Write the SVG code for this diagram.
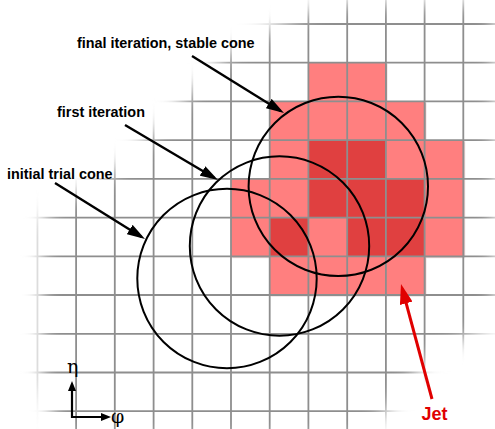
<svg xmlns="http://www.w3.org/2000/svg" width="495" height="429" viewBox="0 0 495 429">
<style>
.grid{stroke:#8e8e8e;stroke-width:1.8;fill:none}
.p{fill:#ff7f7f}
.d{fill:#e04141}
.cone{fill:none;stroke:#000;stroke-width:2}
.arr{stroke:#000;stroke-width:2.4;fill:none}
.lbl{font-family:"Liberation Sans",Arial,sans-serif;font-weight:bold;font-size:14.4px;fill:#000}
.jet{font-family:"Liberation Sans",Arial,sans-serif;font-weight:bold;font-size:18px;fill:#e00000}
.greek{font-family:"DejaVu Serif","Liberation Serif",serif;font-size:19px;fill:#000}
.ax{stroke:#000;stroke-width:2.2;fill:none}
</style>
<defs>
<filter id="blur" filterUnits="userSpaceOnUse" x="-60" y="-60" width="620" height="560">
<feGaussianBlur stdDeviation="9"/>
</filter>
<mask id="fade" maskUnits="userSpaceOnUse" x="0" y="0" width="495" height="429">
<polygon fill="#fff" filter="url(#blur)" points="325,4 235,48 190,93 150,138 105,180 50,208 42,228 42,380 62,440 355,440 380,418 425,360 494,322 494,4"/>
</mask>
<filter id="sh" x="-10%" y="-10%" width="130%" height="130%">
<feDropShadow dx="1.2" dy="1.2" stdDeviation="0.7" flood-color="#7a2a2a" flood-opacity="0.55"/>
</filter>
<marker id="ah" markerUnits="userSpaceOnUse" viewBox="0 0 18 11" markerWidth="18" markerHeight="11" refX="14" refY="5.5" orient="auto">
<path d="M0,0 L18,5.5 L0,11 z" fill="#000"/>
</marker>
<marker id="ahr" markerUnits="userSpaceOnUse" viewBox="0 0 20 13" markerWidth="20" markerHeight="13" refX="15" refY="6.5" orient="auto">
<path d="M0,0 L20,6.5 L0,13 z" fill="#e00000"/>
</marker>
<marker id="ahs" markerUnits="userSpaceOnUse" viewBox="0 0 10 8" markerWidth="10" markerHeight="8" refX="5" refY="4" orient="auto">
<path d="M0,0 L10,4 L0,8 z" fill="#000"/>
</marker>
</defs>
<rect width="495" height="429" fill="#fff"/>
<g id="cells" filter="url(#sh)">
<rect class="p" x="308.4" y="62.7" width="38.8" height="38.8"/>
<rect class="p" x="347.2" y="62.7" width="38.7" height="38.8"/>
<rect class="p" x="269.7" y="101.4" width="38.7" height="38.8"/>
<rect class="p" x="308.4" y="101.4" width="38.8" height="38.8"/>
<rect class="p" x="347.2" y="101.4" width="38.7" height="38.8"/>
<rect class="p" x="385.9" y="101.4" width="38.7" height="38.8"/>
<rect class="p" x="269.7" y="140.2" width="38.7" height="38.7"/>
<rect class="d" x="308.4" y="140.2" width="38.8" height="38.7"/>
<rect class="d" x="347.2" y="140.2" width="38.7" height="38.7"/>
<rect class="p" x="385.9" y="140.2" width="38.7" height="38.7"/>
<rect class="p" x="424.6" y="140.2" width="38.7" height="38.7"/>
<rect class="p" x="231" y="178.9" width="38.7" height="38.7"/>
<rect class="p" x="269.7" y="178.9" width="38.7" height="38.7"/>
<rect class="d" x="308.4" y="178.9" width="38.8" height="38.7"/>
<rect class="d" x="347.2" y="178.9" width="38.7" height="38.7"/>
<rect class="d" x="385.9" y="178.9" width="38.7" height="38.7"/>
<rect class="p" x="424.6" y="178.9" width="38.7" height="38.7"/>
<rect class="p" x="231" y="217.6" width="38.7" height="38.7"/>
<rect class="d" x="269.7" y="217.6" width="38.7" height="38.7"/>
<rect class="p" x="308.4" y="217.6" width="38.8" height="38.7"/>
<rect class="d" x="347.2" y="217.6" width="38.7" height="38.7"/>
<rect class="d" x="385.9" y="217.6" width="38.7" height="38.7"/>
<rect class="p" x="424.6" y="217.6" width="38.7" height="38.7"/>
<rect class="p" x="269.7" y="256.3" width="38.7" height="38.7"/>
<rect class="p" x="308.4" y="256.3" width="38.8" height="38.7"/>
<rect class="p" x="347.2" y="256.3" width="38.7" height="38.7"/>
<rect class="p" x="385.9" y="256.3" width="38.7" height="38.7"/>
</g>
<g id="grid" mask="url(#fade)">
<path class="grid" d="M37.4,0V429M76.1,0V429M114.8,0V429M153.6,0V429M192.3,0V429M231,0V429M269.7,0V429M308.4,0V429M347.2,0V429M385.9,0V429M424.6,0V429M463.3,0V429M0,24H495M0,62.7H495M0,101.4H495M0,140.2H495M0,178.9H495M0,217.6H495M0,256.3H495M0,295H495M0,333.8H495M0,372.5H495M0,411.2H495"/>
</g>
<g id="cone-initial"><circle class="cone" cx="227" cy="278.5" r="89.7"/></g>
<g id="cone-first"><circle class="cone" cx="279.5" cy="246" r="89.7"/></g>
<g id="cone-final"><circle class="cone" cx="338.3" cy="186.4" r="89.7"/></g>
<g id="connectors">
<line class="arr" x1="192" y1="56" x2="280.6" y2="110.9" marker-end="url(#ah)"/>
<line class="arr" x1="125" y1="125" x2="214.6" y2="178" marker-end="url(#ah)"/>
<line class="arr" x1="55" y1="183" x2="141.6" y2="236.9" marker-end="url(#ah)"/>
<line x1="432" y1="399" x2="402.3" y2="288.8" stroke="#e00000" stroke-width="3" marker-end="url(#ahr)"/>
</g>
<g id="label-final"><text class="lbl" x="77" y="48">final iteration, stable cone</text></g>
<g id="label-first"><text class="lbl" x="57" y="116.7">first iteration</text></g>
<g id="label-initial"><text class="lbl" x="7" y="179.3">initial trial cone</text></g>
<g id="label-jet"><text class="jet" x="421.5" y="419.5">Jet</text></g>
<g id="axes">
<line class="ax" x1="72" y1="418" x2="72" y2="386" marker-end="url(#ahs)"/>
<line class="ax" x1="71" y1="417" x2="106" y2="417" marker-end="url(#ahs)"/>
<text class="greek" x="67" y="373">η</text>
<text class="greek" x="111" y="423">φ</text>
</g>
</svg>
